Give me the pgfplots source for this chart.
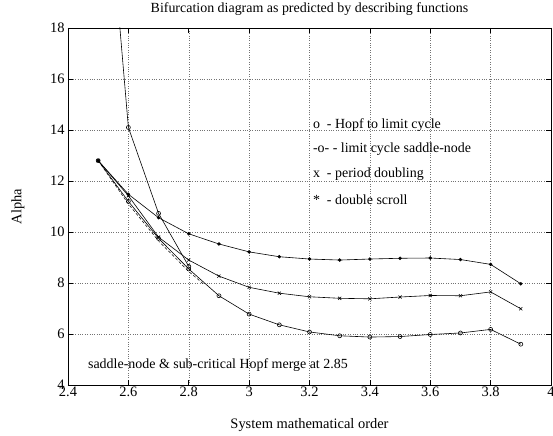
\documentclass[border=0pt]{standalone}
\usepackage{fontspec}
\setmainfont{Liberation Serif}
\usepackage{pgfplots}
\pgfplotsset{compat=1.18}
\begin{document}
\begin{tikzpicture}[x=1bp,y=1bp]
\begin{axis}[
  scale only axis, width=483bp, height=357bp,
  xmin=2.4, xmax=4, ymin=4, ymax=18,
  xtick={2.4,2.6,...,4.01}, ytick={4,6,...,18},
  xticklabels={2.4,2.6,2.8,3,3.2,3.4,3.6,3.8,4},
  tick align=inside, ticks=major,
  grid=major, grid style={dotted, black!55, line width=0.5pt},
  axis line style={line width=0.8pt},
  tick style={black, line width=0.6pt},
  major tick length=5bp,
  tick label style={font=\fontsize{14.5}{16}\selectfont},
  xticklabel style={yshift=2bp},
  /pgf/number format/assume math mode=true,
  title={Bifurcation diagram as predicted by describing functions},
  title style={font=\fontsize{14}{16}\selectfont, at={(axis description cs:0.5,1.026)}, anchor=base, yshift=0pt, inner sep=0pt},
  xlabel={System mathematical order},
  xlabel style={font=\fontsize{14.5}{16}\selectfont, at={(axis description cs:0.5,-0.112)}, anchor=center, yshift=0pt},
  ylabel={Alpha},
  ylabel style={font=\fontsize{14.5}{16}\selectfont, at={(axis description cs:-0.1035,0.5)}, anchor=center, xshift=0pt},
  clip=true,
  every axis plot/.append style={black, line width=0.6pt},
]
% Hopf to limit cycle (o)
\addplot[mark=o, mark size=2bp] coordinates {
(2.5,12.8) (2.6,11.2) (2.7,9.75) (2.8,8.55) (2.9,7.5) (3.0,6.78) (3.1,6.36) (3.2,6.08) (3.3,5.93) (3.4,5.88) (3.5,5.9) (3.6,5.98) (3.7,6.04) (3.8,6.18) (3.9,5.6)};
% period doubling (x)
\addplot[mark=x, mark size=2.2bp] coordinates {
(2.5,12.8) (2.6,11.42) (2.7,9.8) (2.8,8.9) (2.9,8.27) (3.0,7.83) (3.1,7.6) (3.2,7.46) (3.3,7.40) (3.4,7.38) (3.5,7.45) (3.6,7.51) (3.7,7.5) (3.8,7.65) (3.9,6.99)};
% double scroll (*)
\addplot[mark=*, mark size=1.4bp] coordinates {
(2.5,12.8) (2.6,11.48) (2.7,10.56) (2.8,9.93) (2.9,9.53) (3.0,9.22) (3.1,9.03) (3.2,8.94) (3.3,8.9) (3.4,8.94) (3.5,8.97) (3.6,8.98) (3.7,8.92) (3.8,8.73) (3.9,7.97)};
% limit cycle saddle-node (-o-)
\addplot[mark=o, mark size=2bp] coordinates {
(2.5,28) (2.6,14.1) (2.7,10.73) (2.8,8.65)};
% dashed
\addplot[densely dashed, line width=0.5pt] coordinates {
(2.5,12.8) (2.6,11.1) (2.7,9.65) (2.8,8.45) (2.85,7.95)};
\node[anchor=west, font=\fontsize{14}{16}\selectfont] at (axis cs:3.2,14.2) {o\ \ - Hopf to limit cycle};
\node[anchor=west, font=\fontsize{14}{16}\selectfont] at (axis cs:3.2,13.25) {-o- - limit cycle saddle-node};
\node[anchor=west, font=\fontsize{14}{16}\selectfont] at (axis cs:3.2,12.25) {x\ \ - period doubling};
\node[anchor=west, font=\fontsize{14}{16}\selectfont] at (axis cs:3.2,11.25) {*\ \ - double scroll};
\node[anchor=west, font=\fontsize{14}{16}\selectfont] at (axis cs:2.455,4.8) {saddle-node \& sub-critical Hopf merge at 2.85};
\end{axis}
\pgfresetboundingbox
\path (-68bp,-51bp) rectangle (485bp,385bp);
\end{tikzpicture}
\end{document}
